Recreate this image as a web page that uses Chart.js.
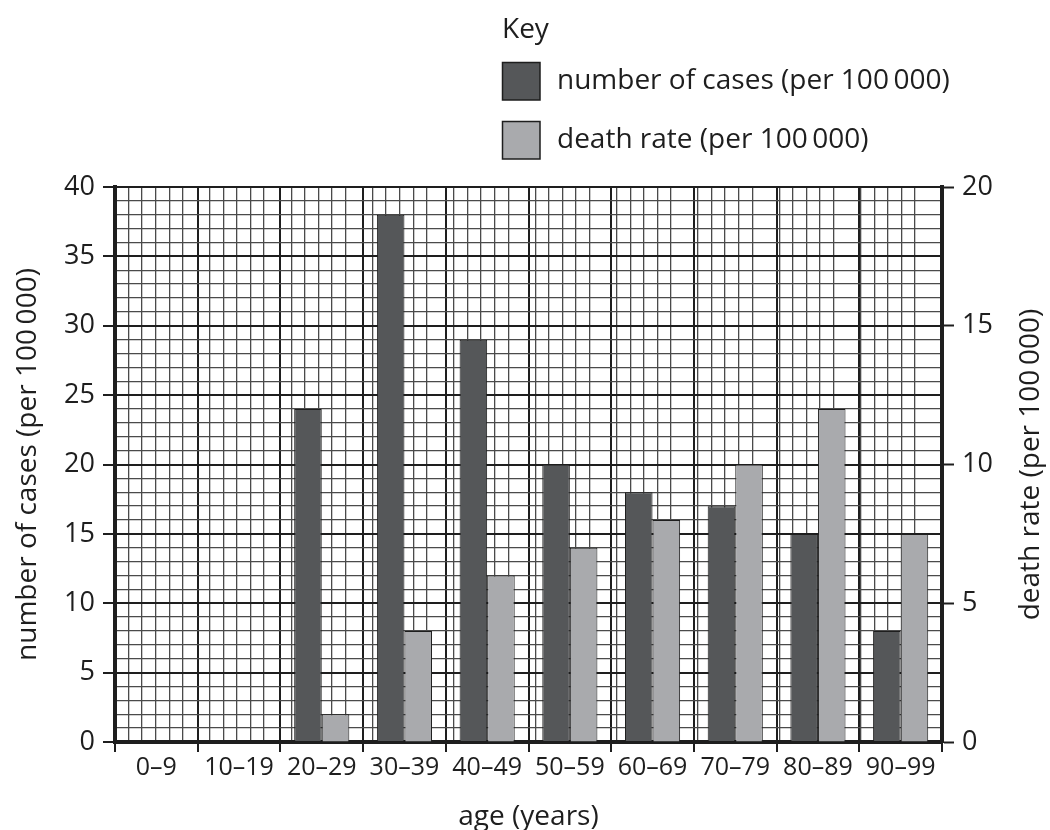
<!DOCTYPE html>
<html><head><meta charset="utf-8">
<script src="https://cdn.jsdelivr.net/npm/chart.js@4"></script>
<style>html,body{margin:0;padding:0;background:#fff}#wrap{width:1050px;height:830px;position:relative}</style>
</head><body><div id="wrap"><canvas id="c" width="1050" height="830"></canvas></div>
<script>
const categories = ['0–9','10–19','20–29','30–39','40–49','50–59','60–69','70–79','80–89','90–99'];
const casesValues = [0, 0, 24, 38, 29, 20, 18, 17, 15, 8];
const deathRateValues = [0, 0, 1, 4, 6, 7, 8, 10, 12, 7.5];
const casesLabel = 'number of cases (per 100\u2009000)';
const deathLabel = 'death rate (per 100\u2009000)';
const xTitle = 'age (years)';
const leftTitle = 'number of cases (per 100\u2009000)';
const rightTitle = 'death rate (per 100\u2009000)';
const keyTitle = 'Key';

const FONT = '"Open Sans", "DejaVu Sans", sans-serif';
const INK = '#1e1e1e';
const MINOR = '#4a4a4a';
const DARK = '#555759';
const LIGHT = '#a9aaad';

Chart.defaults.font.family = FONT;
Chart.defaults.color = INK;

const keyPlugin = {
  id: 'key',
  afterDraw(chart) {
    const ctx = chart.ctx;
    ctx.save();
    ctx.font = '28px ' + FONT;
    ctx.fillStyle = INK;
    ctx.textBaseline = 'middle';
    ctx.textAlign = 'left';
    ctx.fillText(keyTitle, 502, 30);
    chart.data.datasets.forEach((ds, i) => {
      const y = 62 + i * 59;
      ctx.fillStyle = ds.backgroundColor;
      ctx.fillRect(502, y, 38, 38);
      ctx.strokeStyle = INK;
      ctx.lineWidth = 1.5;
      ctx.strokeRect(502.5, y + 0.5, 37.5, 37.5);
      ctx.fillStyle = INK;
      ctx.fillText(ds.label, 557, y + 19);
    });
    // right axis title (reads bottom-to-top like the left one)
    const ca = chart.chartArea;
    ctx.translate(1031, (ca.top + ca.bottom) / 2);
    ctx.rotate(-Math.PI / 2);
    ctx.textAlign = 'center';
    ctx.fillText(rightTitle, 0, 0);
    ctx.restore();
  }
};

new Chart(document.getElementById('c'), {
  type: 'bar',
  data: {
    labels: categories,
    datasets: [
      { label: casesLabel, data: casesValues, backgroundColor: DARK, borderColor: INK, borderWidth: 1, xAxisID: 'x', yAxisID: 'y' },
      { label: deathLabel, data: deathRateValues, backgroundColor: LIGHT, borderColor: INK, borderWidth: 1, xAxisID: 'x', yAxisID: 'y2' }
    ]
  },
  options: {
    responsive: false,
    animation: false,
    devicePixelRatio: 1,
    categoryPercentage: 4 / 6,
    barPercentage: 1,
    layout: { padding: { top: 187, left: 0, right: 0, bottom: 0 } },
    plugins: { legend: { display: false }, tooltip: { enabled: false } },
    scales: {
      x: {
        type: 'category',
        position: 'bottom',
        offset: true,
        grid: { offset: true, color: INK, lineWidth: 2, drawTicks: true, tickLength: 10, tickColor: INK, tickWidth: 2 },
        border: { display: true, width: 4, color: INK },
        ticks: { font: { size: 25 }, color: INK, padding: 1, maxRotation: 0, autoSkip: false },
        title: { display: true, text: xTitle, font: { size: 28 }, color: INK, padding: { top: 0, bottom: -4 } },
        afterFit(s) { s.height = 88; }
      },
      x2: {
        type: 'linear',
        axis: 'x',
        position: 'top',
        min: 0, max: 60,
        ticks: { display: false, stepSize: 1, maxTicksLimit: 100 },
        grid: {
          color: c => (c.tick && c.tick.value % 6 === 0) ? 'rgba(0,0,0,0)' : MINOR,
          lineWidth: 1.3,
          drawTicks: false
        },
        border: { display: false },
        afterFit(s) { s.height = 0; }
      },
      y: {
        position: 'left',
        min: 0, max: 40,
        ticks: {
          stepSize: 1, maxTicksLimit: 100, autoSkip: false,
          callback: v => (v % 5 === 0 ? String(v) : ''),
          font: { size: 27 }, color: INK, padding: 8
        },
        grid: {
          color: c => (c.tick && c.tick.value % 5 === 0) ? INK : MINOR,
          lineWidth: c => (c.tick && c.tick.value % 5 === 0) ? 2 : 1.3,
          tickLength: 12,
          tickColor: c => (c.tick && c.tick.value % 5 === 0) ? INK : 'rgba(0,0,0,0)',
          tickWidth: 2
        },
        border: { display: true, width: 4, color: INK },
        title: { display: true, text: leftTitle, font: { size: 28 }, color: INK, padding: { top: 11, bottom: 0 } },
        afterFit(s) { s.width = 115; }
      },
      y2: {
        position: 'right',
        min: 0, max: 20,
        ticks: { stepSize: 5, font: { size: 27 }, color: INK, padding: 8 },
        grid: { drawOnChartArea: false, tickLength: 12, tickColor: INK, tickWidth: 2 },
        border: { display: true, width: 4, color: INK },
        afterFit(s) { s.width = 108; }
      }
    }
  },
  plugins: [keyPlugin]
});
</script>
</body></html>
